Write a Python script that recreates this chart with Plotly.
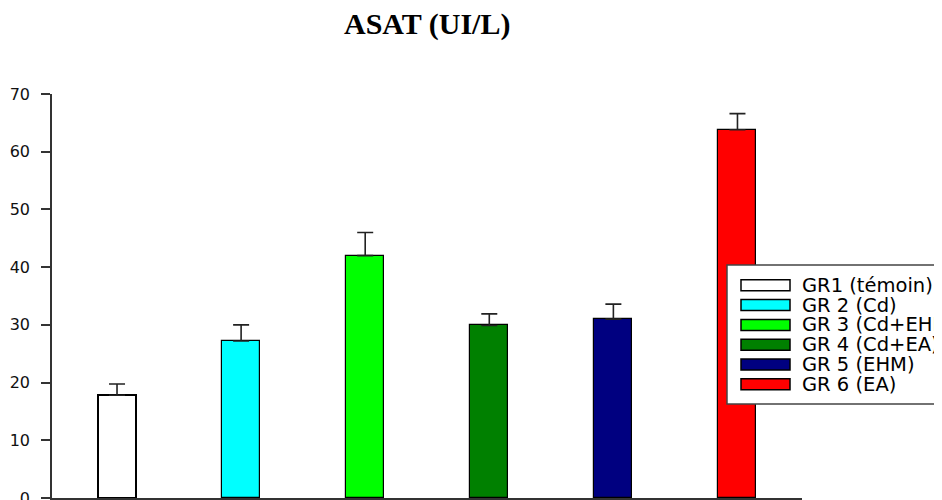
import plotly.graph_objects as go

# ---- data ----
groups = ["GR1 (témoin)", "GR 2 (Cd)", "GR 3 (Cd+EHM)", "GR 4 (Cd+EA)", "GR 5 (EHM)", "GR 6 (EA)"]
means = [17.8, 27.2, 42.0, 29.9, 31.0, 63.8]
errors = [1.95, 2.8, 4.0, 2.0, 2.6, 2.8]
colors = ["#FFFFFF", "#00FFFF", "#00FF00", "#008000", "#000080", "#FF0000"]
title_text = "ASAT (UI/L)"
y_ticks = [0, 10, 20, 30, 40, 50, 60, 70]

# page body has an 8px margin: layout is expressed in page pixels, shifted by OFF
OFF = 8
W, H = 942, 500
L, T = 52 - OFF, 94 - OFF
plot_right, plot_bottom = 802 - OFF, 498 - OFF
R, B = W - plot_right, H - plot_bottom
plot_w = plot_right - L
plot_h = plot_bottom - T

fig = go.Figure()
for i, (g, m, e, c) in enumerate(zip(groups, means, errors, colors)):
    fig.add_trace(go.Bar(
        x=[i], y=[m], name=g, width=0.306,
        marker=dict(color=c, line=dict(color="#000000", width=2 if i == 0 else 1.2)),
        error_y=dict(type="data", symmetric=False, array=[e], arrayminus=[0],
                     color="#222222", thickness=1.6, width=8),
        showlegend=False,
    ))


def px_x(px):  # page pixel -> paper x
    return (px - OFF - L) / plot_w


def px_y(py):  # page pixel -> paper y
    return (plot_bottom - (py - OFF)) / plot_h


shapes = [dict(type="rect", xref="paper", yref="paper", layer="above",
               x0=px_x(727), x1=px_x(990), y0=px_y(404), y1=px_y(265),
               fillcolor="#FFFFFF", line=dict(color="#444444", width=1.5))]
annotations = []
row0, step = 285.3, 19.8
for i, (g, c) in enumerate(zip(groups, colors)):
    cy = row0 + step * i
    shapes.append(dict(type="rect", xref="paper", yref="paper", layer="above",
                       x0=px_x(741), x1=px_x(790), y0=px_y(cy + 5.5), y1=px_y(cy - 5.5),
                       fillcolor=c, line=dict(color="#000000", width=1.5)))
    annotations.append(dict(x=px_x(800), y=px_y(cy), xref="paper", yref="paper",
                            text=g, showarrow=False, xanchor="left", yanchor="middle",
                            font=dict(family="DejaVu Sans", size=19.5, color="#000000")))

annotations.append(dict(x=px_x(427), y=px_y(24), xref="paper", yref="paper",
                        text="<b>" + title_text + "</b>", showarrow=False,
                        xanchor="center", yanchor="middle",
                        font=dict(family="Liberation Serif", size=30, color="#000000")))

fig.update_layout(
    width=W, height=H,
    margin=dict(l=L, r=R, t=T, b=B, autoexpand=False),
    paper_bgcolor="#FFFFFF", plot_bgcolor="#FFFFFF",
    shapes=shapes, annotations=annotations,
    bargap=0,
    xaxis=dict(range=[-0.524, 5.52], showline=True, linecolor="#333333", linewidth=1.5,
               showgrid=False, zeroline=False, showticklabels=False, ticks=""),
    yaxis=dict(range=[0, 70], tickvals=y_ticks, showline=True, linecolor="#333333",
               linewidth=1.5, showgrid=False, zeroline=False, ticks="outside",
               ticklen=9, tickwidth=1.5, tickcolor="#333333", ticklabelstandoff=8,
               tickfont=dict(family="DejaVu Sans", size=16, color="#111111")),
)

fig.write_html("out.html")
